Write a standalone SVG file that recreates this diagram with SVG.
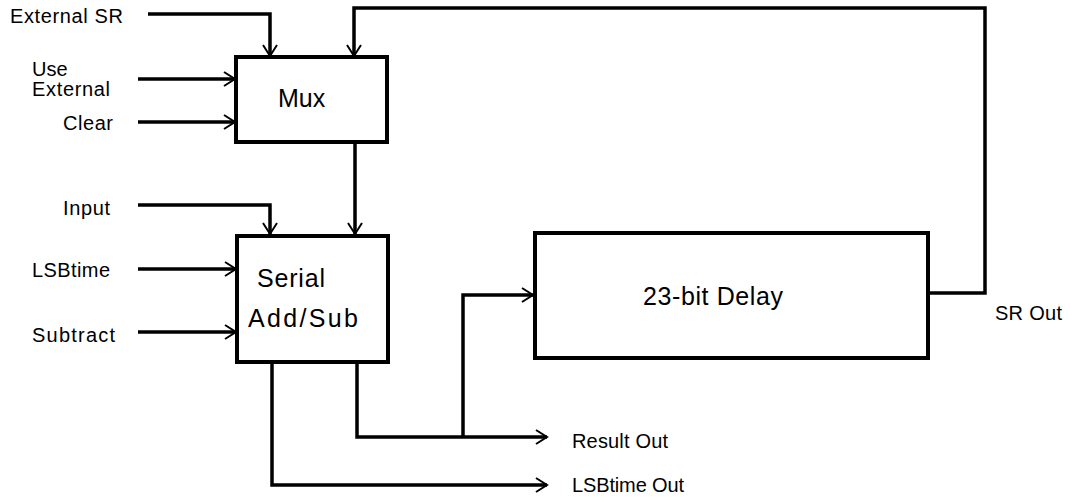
<svg xmlns="http://www.w3.org/2000/svg" width="1070" height="497" viewBox="0 0 1070 497">
<defs>
<marker id="arr" markerWidth="14" markerHeight="16" refX="12" refY="8" orient="auto" markerUnits="userSpaceOnUse">
<path d="M1,1 L12,8 L1,15" fill="none" stroke="#000" stroke-width="2"/>
</marker>
</defs>
<style>
.box{fill:#fff;stroke:#000;stroke-width:4}
.ln{fill:none;stroke:#000;stroke-width:3.5;stroke-linejoin:miter}
.lbl{font-family:"Liberation Sans",Arial,sans-serif;font-size:20px;fill:#000}
.big{font-family:"Liberation Sans",Arial,sans-serif;font-size:25px;fill:#000}
</style>
<rect width="1070" height="497" fill="#fff"/>
<g id="connectors">
<path class="ln" d="M148,14 H270 V56" marker-end="url(#arr)"/>
<path class="ln" d="M930,293 H985 V8 H354 V56" marker-end="url(#arr)"/>
<path class="ln" d="M138,79 H235" marker-end="url(#arr)"/>
<path class="ln" d="M138,122 H235" marker-end="url(#arr)"/>
<path class="ln" d="M355,143 V234" marker-end="url(#arr)"/>
<path class="ln" d="M138,205 H270 V234" marker-end="url(#arr)"/>
<path class="ln" d="M138,269 H236" marker-end="url(#arr)"/>
<path class="ln" d="M138,332 H236" marker-end="url(#arr)"/>
<path class="ln" d="M357,363 V437 H547" marker-end="url(#arr)"/>
<path class="ln" d="M463,437 V295 H533" marker-end="url(#arr)"/>
<path class="ln" d="M272,363 V485 H547" marker-end="url(#arr)"/>
</g>
<g id="mux">
<rect class="box" x="236" y="57" width="151" height="85"/>
<text class="big" x="278" y="107">Mux</text>
</g>
<g id="addsub">
<rect class="box" x="237" y="236" width="151" height="126"/>
<text class="big" x="257" y="287" textLength="68">Serial</text>
<text class="big" x="248" y="327" textLength="110">Add/Sub</text>
</g>
<g id="delay">
<rect class="box" x="535" y="233" width="393" height="125"/>
<text class="big" x="643" y="305" textLength="140">23-bit Delay</text>
</g>
<g id="labels">
<text class="lbl" x="10" y="23" textLength="113">External SR</text>
<text class="lbl" x="32" y="76">Use</text>
<text class="lbl" x="32" y="96" textLength="78">External</text>
<text class="lbl" x="63" y="130" textLength="50">Clear</text>
<text class="lbl" x="63" y="215" textLength="47">Input</text>
<text class="lbl" x="32" y="277" textLength="78">LSBtime</text>
<text class="lbl" x="32" y="342" textLength="83">Subtract</text>
<text class="lbl" x="572" y="448" textLength="96">Result Out</text>
<text class="lbl" x="572" y="492" textLength="112">LSBtime Out</text>
<text class="lbl" x="995" y="320" textLength="67">SR Out</text>
</g>
</svg>
